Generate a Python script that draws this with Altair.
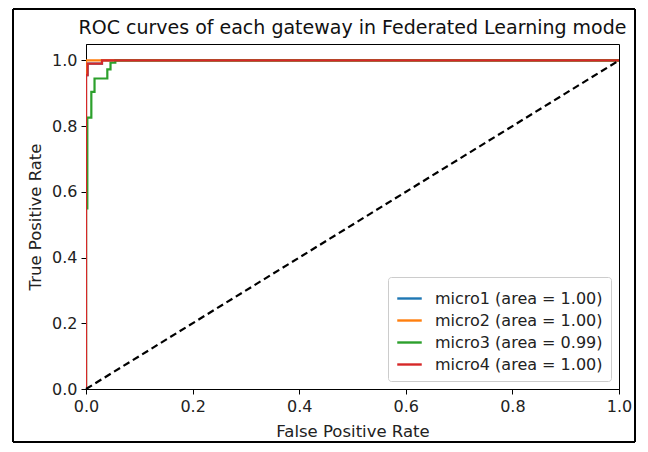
import altair as alt
import pandas as pd

title_text = "ROC curves of each gateway in Federated Learning mode"
labels = ["micro1 (area = 1.00)", "micro2 (area = 1.00)", "micro3 (area = 0.99)", "micro4 (area = 1.00)"]
colors = ["#1f77b4", "#ff7f0e", "#2ca02c", "#d62728"]

micro1_fpr = [0.0, 0.0, 0.003, 0.003, 0.03, 0.03, 1.0]
micro1_tpr = [0.0, 0.955, 0.955, 0.99, 0.99, 1.0, 1.0]
micro2_fpr = [0.0, 0.0, 1.0]
micro2_tpr = [0.0, 1.0, 1.0]
micro3_fpr = [0.0, 0.0, 0.0025, 0.0025, 0.01, 0.01, 0.016, 0.016, 0.04, 0.04, 0.046, 0.046, 0.055, 0.055, 1.0]
micro3_tpr = [0.0, 0.55, 0.55, 0.826, 0.826, 0.904, 0.904, 0.945, 0.945, 0.973, 0.973, 0.993, 0.993, 1.0, 1.0]
micro4_fpr = [0.0, 0.0, 0.003, 0.003, 0.03, 0.03, 1.0]
micro4_tpr = [0.0, 0.955, 0.955, 0.99, 0.99, 1.0, 1.0]

diag_x = [0.0, 1.0]
diag_y = [0.0, 1.0]

rows = []
for lab, fx, ty in zip(labels, [micro1_fpr, micro2_fpr, micro3_fpr, micro4_fpr],
                       [micro1_tpr, micro2_tpr, micro3_tpr, micro4_tpr]):
    for i, (a, b) in enumerate(zip(fx, ty)):
        rows.append({"series": lab, "fpr": a, "tpr": b, "idx": i})
df = pd.DataFrame(rows)
diag = pd.DataFrame({"fpr": diag_x, "tpr": diag_y})

FONT = "DejaVu Sans"
W, H = 533, 345

x = alt.X("fpr:Q", scale=alt.Scale(domain=[0, 1], nice=False, zero=False, padding=0),
          axis=alt.Axis(title="False Positive Rate", values=[0, 0.2, 0.4, 0.6, 0.8, 1.0],
                        format=".1f", labelFlush=False))
y = alt.Y("tpr:Q", scale=alt.Scale(domain=[0, 1.05], nice=False, zero=False, padding=0),
          axis=alt.Axis(title="True Positive Rate", values=[0, 0.2, 0.4, 0.6, 0.8, 1.0],
                        format=".1f", labelFlush=False))

lines = alt.Chart(df).mark_line(strokeWidth=2.2, interpolate="linear", clip=True).encode(
    x=x, y=y,
    color=alt.Color("series:N", scale=alt.Scale(domain=labels, range=colors),
                    legend=alt.Legend(title=None, orient="bottom-right", offset=8,
                                      symbolType="stroke", symbolStrokeWidth=2.4, symbolSize=600,
                                      labelFontSize=16, labelFont=FONT, labelColor="#222",
                                      labelLimit=400,
                                      strokeColor="#cccccc", fillColor="white", padding=8,
                                      cornerRadius=3, rowPadding=0, labelOffset=12)),
    order="idx:Q",
)

dashed = alt.Chart(diag).mark_line(color="black", strokeWidth=2.2, strokeDash=[7, 4]).encode(x=x, y=y)

one = pd.DataFrame({"a": [0]})
FL, FR, FT, FB = -73, 549, -35, 398
frame_l = alt.Chart(one).mark_rule(color="black", strokeWidth=2, clip=False).encode(
    x=alt.value(FL), y=alt.value(FT), y2=alt.value(FB))
frame_r = alt.Chart(one).mark_rule(color="black", strokeWidth=2, clip=False).encode(
    x=alt.value(FR), y=alt.value(FT), y2=alt.value(FB))
frame_t = alt.Chart(one).mark_rule(color="black", strokeWidth=2, clip=False).encode(
    x=alt.value(FL), x2=alt.value(FR), y=alt.value(FT))
frame_b = alt.Chart(one).mark_rule(color="black", strokeWidth=2, clip=False).encode(
    x=alt.value(FL), x2=alt.value(FR), y=alt.value(FB))

title = alt.Chart(pd.DataFrame({"t": [title_text]})).mark_text(
    font=FONT, fontSize=19, color="#111", align="center", baseline="middle", clip=False
).encode(text="t:N", x=alt.value(W / 2), y=alt.value(-16))

chart = alt.layer(lines, dashed, frame_l, frame_r, frame_t, frame_b, title).properties(
    width=W, height=H,
    padding={"left": 78, "top": 36, "right": 18, "bottom": 55},
    autosize=alt.AutoSizeParams(type="none"),
).configure_view(stroke="black", strokeWidth=1).configure_axis(
    grid=False, domainColor="black", tickColor="black", tickSize=5,
    labelFontSize=16, titleFontSize=16.5, labelFont=FONT, titleFont=FONT,
    labelColor="#222", titleColor="#222", titleFontWeight="normal",
    labelPadding=4, domain=True, zindex=1,
).configure_axisX(titlePadding=9).configure_axisY(titlePadding=8)

chart.save("out.html", embed_options={"renderer": "svg", "actions": False})
